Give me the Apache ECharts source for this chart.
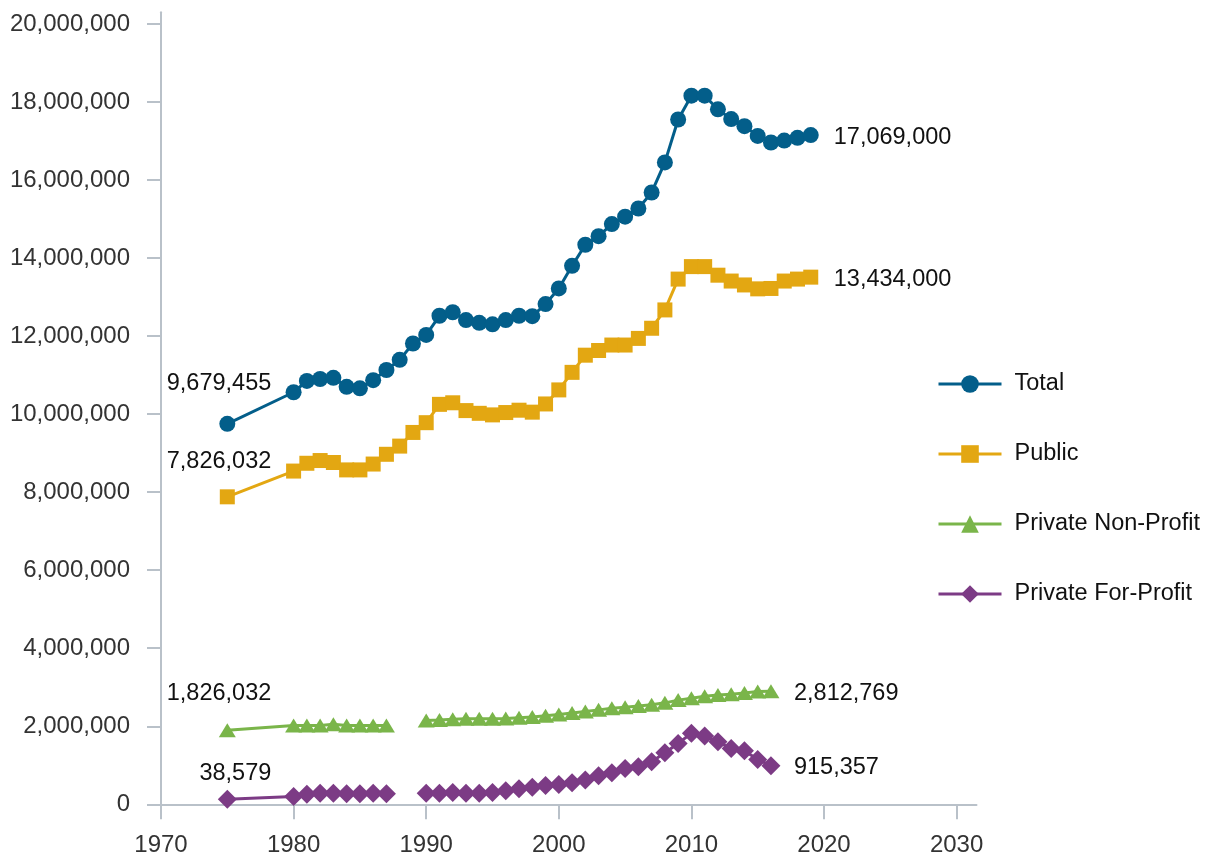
<!DOCTYPE html>
<html>
<head>
<meta charset="utf-8">
<script src="https://cdn.jsdelivr.net/npm/echarts@6/dist/echarts.min.js"></script>
<style>
html,body{margin:0;padding:0;background:#fff;}
#chart{width:1206px;height:862px;}
</style>
</head>
<body>
<div id="chart"></div>
<script>
const years = [1975, 1980, 1981, 1982, 1983, 1984, 1985, 1986, 1987, 1988, 1989,
  1990, 1991, 1992, 1993, 1994, 1995, 1996, 1997, 1998, 1999,
  2000, 2001, 2002, 2003, 2004, 2005, 2006, 2007, 2008, 2009,
  2010, 2011, 2012, 2013, 2014, 2015, 2016, 2017, 2018, 2019];

const totalValues = [9750000, 10560000, 10850000, 10900000, 10930000, 10700000, 10660000, 10870000, 11130000, 11390000, 11810000,
  12030000, 12520000, 12610000, 12410000, 12340000, 12300000, 12410000, 12520000, 12510000, 12820000,
  13220000, 13800000, 14340000, 14560000, 14870000, 15060000, 15270000, 15680000, 16450000, 17550000,
  18160000, 18160000, 17810000, 17560000, 17380000, 17130000, 16960000, 17010000, 17080000, 17150000];

const publicValues = [7880000, 8540000, 8740000, 8810000, 8760000, 8570000, 8570000, 8720000, 8970000, 9180000, 9530000,
  9780000, 10250000, 10290000, 10090000, 10020000, 9980000, 10040000, 10100000, 10050000, 10260000,
  10620000, 11070000, 11510000, 11630000, 11770000, 11770000, 11940000, 12200000, 12670000, 13460000,
  13780000, 13780000, 13560000, 13410000, 13310000, 13210000, 13220000, 13410000, 13460000, 13510000];

const nonProfitValues = [1900000, 2020000, 2020000, 2020000, 2050000, 2020000, 2020000, 2020000, 2020000, null, null,
  2150000, 2160000, 2180000, 2190000, 2190000, 2190000, 2200000, 2220000, 2240000, 2270000,
  2300000, 2340000, 2380000, 2420000, 2460000, 2490000, 2520000, 2550000, 2600000, 2670000,
  2720000, 2770000, 2800000, 2820000, 2850000, 2890000, 2900000, null, null, null];

const forProfitValues = [130000, 200000, 260000, 280000, 280000, 270000, 270000, 280000, 270000, null, null,
  280000, 280000, 300000, 280000, 280000, 300000, 350000, 400000, 440000, 480000,
  510000, 550000, 620000, 730000, 810000, 920000, 960000, 1090000, 1320000, 1560000,
  1820000, 1750000, 1600000, 1430000, 1370000, 1150000, 990000, null, null, null];

const seriesNames = ['Total', 'Public', 'Private Non-Profit', 'Private For-Profit'];
const startLabels = ['9,679,455', '7,826,032', '1,826,032', '38,579'];
const endLabels = ['17,069,000', '13,434,000', '2,812,769', '915,357'];
const xTicks = [1970, 1980, 1990, 2000, 2010, 2020, 2030];
const yTicks = [0, 2000000, 4000000, 6000000, 8000000, 10000000, 12000000, 14000000, 16000000, 18000000, 20000000];

const colors = ['#035e8a', '#e3a712', '#7ab54a', '#7c3b85'];
const symbols = ['circle', 'rect', 'triangle', 'diamond'];
const symbolSizes = [16, 15, [17, 14], 19];
const startOffsets = [[44, -40], [44, -35], [44, -37], [44, -26]];
const FONT = '"Liberation Sans", Arial, sans-serif';

function buildData(values, startText, endText, startOff) {
  let last = -1;
  values.forEach((v, i) => { if (v != null) last = i; });
  return years.map((yr, i) => {
    const v = values[i];
    if (v == null) return [yr, '-'];
    const item = { value: [yr, v] };
    if (i === 0) {
      item.label = { show: true, formatter: startText, position: 'inside', align: 'right',
        verticalAlign: 'middle', offset: startOff, color: '#111', fontSize: 23.5, fontFamily: FONT };
    } else if (i === last) {
      item.label = { show: true, formatter: endText, position: 'inside', align: 'left',
        verticalAlign: 'middle', offset: [23, 2], color: '#111', fontSize: 23.5, fontFamily: FONT };
    }
    return item;
  });
}

const allValues = [totalValues, publicValues, nonProfitValues, forProfitValues];

const chart = echarts.init(document.getElementById('chart'), null, { renderer: 'canvas' });
const axisColor = '#b9c1c9';

chart.setOption({
  animation: false,
  backgroundColor: '#ffffff',
  grid: { left: 161, right: 229.5, top: 12.2, bottom: 57.7, containLabel: false },
  legend: {
    orient: 'vertical',
    left: 932,
    top: 367,
    itemWidth: 63,
    itemHeight: 22,
    itemGap: 46,
    lineStyle: { width: 3 },
    textStyle: { fontSize: 23.5, color: '#111', fontFamily: FONT, padding: [0, 0, 0, 8] },
    data: seriesNames
  },
  xAxis: {
    type: 'value',
    min: 1970,
    max: 2031.5,
    interval: 10,
    axisLine: { show: true, lineStyle: { color: axisColor, width: 2 } },
    axisTick: { show: true, length: 15, lineStyle: { color: axisColor, width: 2 }, customValues: xTicks },
    axisLabel: { customValues: xTicks, margin: 29, fontSize: 24, color: '#333', fontFamily: FONT,
      formatter: v => String(v) },
    splitLine: { show: false }
  },
  yAxis: {
    type: 'value',
    min: 0,
    max: 20300000,
    interval: 2000000,
    axisLine: { show: true, lineStyle: { color: axisColor, width: 2 } },
    axisTick: { show: true, length: 14, lineStyle: { color: axisColor, width: 2 }, customValues: yTicks },
    axisLabel: { customValues: yTicks, margin: 31, fontSize: 24, color: '#333', fontFamily: FONT,
      formatter: v => Number(v).toLocaleString('en-US') },
    splitLine: { show: false }
  },
  series: seriesNames.map((name, k) => ({
    name: name,
    type: 'line',
    symbol: symbols[k],
    symbolSize: symbolSizes[k],
    showAllSymbol: true,
    connectNulls: false,
    clip: false,
    color: colors[k],
    itemStyle: { color: colors[k] },
    lineStyle: { color: colors[k], width: 3 },
    emphasis: { disabled: true },
    data: buildData(allValues[k], startLabels[k], endLabels[k], startOffsets[k])
  }))
});
</script>
</body>
</html>
